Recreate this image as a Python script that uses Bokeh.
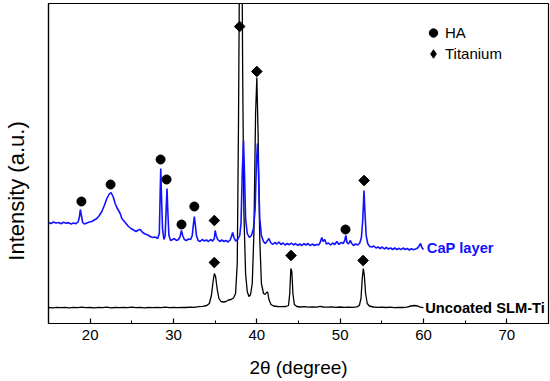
import numpy as np
from bokeh.plotting import figure
from bokeh.models import Range1d, SingleIntervalTicker, FixedTicker, Label, Legend, LegendItem
from bokeh.embed import file_html
from bokeh.resources import INLINE

# ---- data ----
# Uncoated SLM-Ti pattern: 2theta (degree), intensity (a.u., offset baseline)
slm_x = [15.0, 15.5, 16.0, 16.5, 17.0, 17.5, 18.0, 18.5, 19.0, 19.5, 20.0, 20.5, 21.0, 21.5,
         22.0, 22.5, 23.0, 23.5, 24.0, 24.5, 25.0, 25.5, 26.0, 26.5, 27.0, 27.5, 28.0, 28.5,
         29.0, 29.5, 30.0, 30.5, 31.0, 31.5, 32.0, 32.5, 33.0, 33.5, 34.0, 34.3, 34.55, 34.75,
         34.9, 35.05, 35.25, 35.45, 35.7, 36.0, 36.3, 36.6, 36.9, 37.2, 37.45, 37.65, 37.8,
         37.95, 38.2, 38.3, 38.45, 38.65, 38.85, 39.05, 39.25, 39.45, 39.65, 39.85, 40.0,
         40.15, 40.35, 40.55, 40.8, 41.0, 41.15, 41.3, 41.45, 41.7, 42.0, 42.5, 43.0, 43.5,
         43.8, 43.95, 44.08, 44.2, 44.33, 44.5, 44.8, 45.2, 45.7, 46.2, 46.7, 47.2, 47.6,
         48.0, 48.5, 49.0, 49.5, 50.0, 50.5, 51.0, 51.5, 52.0, 52.3, 52.5, 52.65, 52.78,
         52.9, 53.05, 53.25, 53.5, 54.0, 54.5, 55.0, 55.5, 56.0, 56.5, 57.0, 57.5, 58.0,
         58.5, 58.9, 59.3, 59.6, 60.0]
slm_y = [16.0, 15.6, 16.2, 15.8, 16.1, 15.7, 16.2, 15.9, 16.3, 15.8, 16.0, 15.6, 16.1, 15.9,
         16.3, 15.7, 16.0, 15.8, 16.2, 15.9, 16.4, 15.8, 16.1, 15.7, 16.0, 15.9, 16.2, 15.8,
         16.3, 15.9, 16.1, 15.8, 16.2, 16.0, 16.4, 16.2, 16.8, 17.2, 18.0, 20.0, 28.0, 42.0,
         50.0, 47.0, 34.0, 25.0, 22.0, 21.5, 22.0, 23.5, 24.0, 25.5, 30.0, 60.0, 200.0,
         400.0, 400.0, 250.0, 110.0, 50.0, 32.0, 27.0, 29.0, 40.0, 90.0, 210.0, 246.0,
         190.0, 85.0, 40.0, 30.0, 29.0, 31.0, 31.5, 24.0, 19.0, 17.5, 17.0, 16.8, 17.0,
         18.0, 30.0, 55.0, 52.0, 30.0, 19.0, 17.0, 16.5, 16.8, 16.4, 16.6, 16.3, 17.2,
         16.5, 16.3, 16.6, 16.2, 16.5, 16.2, 16.4, 16.1, 16.6, 18.0, 25.0, 45.0, 55.0,
         48.0, 30.0, 20.0, 17.5, 16.5, 16.2, 16.4, 16.0, 16.3, 15.9, 16.2, 16.0, 16.4,
         17.5, 18.0, 17.5, 16.3, 15.8]

# CaP layer pattern
cap_x = [15.0, 15.3, 15.6, 15.9, 16.2, 16.5, 16.8, 17.1, 17.4, 17.7, 18.0, 18.3, 18.55, 18.7,
         18.82, 18.95, 19.1, 19.3, 19.6, 19.9, 20.2, 20.5, 20.8, 21.1, 21.4, 21.7, 22.0,
         22.25, 22.5, 22.75, 23.0, 23.2, 23.4, 23.6, 23.8, 24.0, 24.3, 24.6, 24.9, 25.2,
         25.5, 25.8, 26.0, 26.3, 26.6, 26.9, 27.2, 27.5, 27.8, 28.1, 28.3, 28.4, 28.47,
         28.55, 28.68, 28.85, 29.0, 29.12, 29.22, 29.32, 29.45, 29.65, 29.9, 30.1, 30.35,
         30.6, 30.8, 30.95, 31.1, 31.3, 31.55, 31.8, 32.05, 32.25, 32.4, 32.5, 32.6, 32.75,
         32.95, 33.2, 33.45, 33.7, 33.95, 34.2, 34.45, 34.7, 34.9, 35.0, 35.12, 35.3, 35.55,
         35.8, 36.05, 36.3, 36.55, 36.8, 36.95, 37.1, 37.25, 37.45, 37.7, 37.95, 38.1,
         38.25, 38.4, 38.52, 38.65, 38.85, 39.1, 39.35, 39.6, 39.8, 39.95, 40.08, 40.2,
         40.35, 40.55, 40.8, 41.0, 41.2, 41.45, 41.65, 41.9, 42.15, 42.4, 42.65, 42.9,
         43.15, 43.4, 43.65, 43.9, 44.15, 44.4, 44.65, 44.9, 45.15, 45.4, 45.65, 45.9,
         46.15, 46.4, 46.65, 46.9, 47.15, 47.4, 47.6, 47.8, 47.95, 48.15, 48.35, 48.6,
         48.85, 49.1, 49.35, 49.6, 49.85, 50.1, 50.35, 50.55, 50.68, 50.82, 51.0, 51.2,
         51.4, 51.6, 51.85, 52.1, 52.35, 52.55, 52.72, 52.86, 52.98, 53.12, 53.3, 53.55,
         53.8, 54.05, 54.3, 54.55, 54.8, 55.05, 55.3, 55.55, 55.8, 56.05, 56.3, 56.55,
         56.8, 57.05, 57.3, 57.55, 57.8, 58.05, 58.3, 58.55, 58.8, 59.05, 59.3, 59.5,
         59.65, 59.8, 60.0]
cap_y = [101.0, 100.0, 101.5, 100.5, 101.0, 99.8, 101.2, 100.3, 100.9, 99.5, 100.6, 99.8,
         101.5, 106.0, 114.0, 108.0, 101.0, 99.5, 100.5, 101.5, 102.0, 103.5, 105.0, 108.0,
         112.0, 118.0, 125.0, 129.0, 131.0, 127.0, 120.0, 116.0, 113.0, 110.0, 105.0, 103.0,
         100.0, 97.0, 95.0, 93.5, 92.0, 93.5, 94.0, 91.0, 89.5, 88.5, 87.0, 86.0, 86.5,
         85.0, 90.0, 130.0, 155.0, 130.0, 95.0, 84.0, 88.0, 115.0, 135.0, 112.0, 88.0, 83.0,
         84.0, 85.0, 83.0, 84.0, 87.0, 93.0, 88.0, 84.0, 83.0, 84.5, 84.0, 88.0, 100.0,
         107.0, 100.0, 88.0, 83.0, 82.0, 84.0, 82.5, 83.5, 82.0, 84.0, 82.5, 85.0, 93.0,
         88.0, 84.0, 82.0, 83.5, 82.0, 83.0, 81.5, 83.5, 87.0, 91.0, 86.0, 82.5, 84.0, 88.0,
         100.0, 150.0, 183.0, 150.0, 105.0, 90.0, 86.0, 88.0, 95.0, 115.0, 160.0, 180.0,
         150.0, 105.0, 88.0, 82.0, 80.0, 82.0, 85.0, 81.0, 79.0, 81.0, 79.5, 81.5, 79.0,
         80.5, 78.5, 80.0, 78.8, 80.5, 78.5, 80.0, 78.0, 79.5, 78.0, 79.8, 78.5, 80.0, 77.8,
         79.5, 78.0, 79.0, 78.5, 81.0, 86.0, 82.0, 84.0, 79.5, 80.5, 78.5, 80.5, 79.0, 82.0,
         79.0, 81.0, 80.0, 83.0, 88.0, 81.0, 79.5, 83.0, 80.0, 78.0, 79.5, 78.5, 80.5, 86.0,
         105.0, 133.0, 110.0, 88.0, 80.0, 77.0, 76.5, 77.5, 75.5, 76.5, 75.0, 76.5, 74.5,
         76.0, 74.5, 75.5, 74.0, 75.5, 74.0, 75.2, 73.8, 75.5, 74.0, 75.0, 73.5, 74.8, 73.8,
         74.5, 75.5, 78.0, 80.0, 76.0, 74.0]

# Peak markers
ha_x = [18.95, 22.45, 28.45, 29.17, 30.96, 32.5, 50.64]
ha_y = [122, 139, 164, 144, 99, 117, 94]
ti_x = [34.9, 34.9, 37.94, 40.0, 44.1, 52.75, 52.87]
ti_y = [103, 61, 297, 252, 68, 63, 143]

# legend labels and series labels
legend_labels = ["HA", "Titanium"]
series_labels = ["CaP layer", "Uncoated SLM-Ti"]
series_label_x = [60.4, 60.2]
series_label_y = [76, 16]
y_title = "Intensity (a.u.)"
x_title = "2θ (degree)"

BLUE = "#1212ff"
FONT = "Liberation Sans"

p = figure(width=550, height=381, output_backend="svg", toolbar_location=None,
           x_range=Range1d(15, 75), y_range=Range1d(0, 320),
           min_border_left=46, min_border_right=2, min_border_top=3, min_border_bottom=58)
p.grid.visible = False
p.outline_line_color = "black"
p.outline_line_width = 1.2
p.background_fill_color = "white"
p.border_fill_color = "white"

p.line(slm_x, slm_y, line_color="black", line_width=1.3)
p.line(cap_x, cap_y, line_color=BLUE, line_width=1.6)

r_ha = p.scatter(ha_x, ha_y, marker="circle", size=9, color="black")
# diamond-shaped legend key, drawn beneath (and hidden by) the rotated squares
r_ti_key = p.scatter(ti_x, ti_y, marker="diamond", size=9, color="black")
r_ti = p.scatter(ti_x, ti_y, marker="square", angle=np.pi / 4, size=7.5, color="black")

legend = Legend(items=[LegendItem(label=legend_labels[0], renderers=[r_ha]),
                       LegendItem(label=legend_labels[1], renderers=[r_ti_key])],
                location=(373, 259), glyph_width=24, glyph_height=21, label_height=20,
                label_standoff=0, spacing=0, padding=0, margin=0,
                border_line_color=None, background_fill_alpha=0,
                label_text_font=FONT, label_text_font_size="15px", label_text_color="black")
p.add_layout(legend)

for txt, lx, ly, col in zip(series_labels, series_label_x, series_label_y, [BLUE, "black"]):
    p.add_layout(Label(x=lx, y=ly, text=txt, text_font=FONT, text_font_style="bold",
                       text_font_size="14.7px", text_color=col, text_baseline="middle"))

xa = p.xaxis[0]
xa.ticker = SingleIntervalTicker(interval=10, num_minor_ticks=2)
xa.major_tick_in = 5
xa.major_tick_out = 0
xa.minor_tick_in = 3
xa.minor_tick_out = 0
xa.axis_line_width = 1.2
xa.major_tick_line_width = 1.2
xa.major_label_text_font = FONT
xa.major_label_text_font_size = "15px"
xa.major_label_text_color = "black"
xa.major_label_standoff = 6
xa.axis_label = x_title
xa.axis_label_text_font = FONT
xa.axis_label_text_font_size = "19px"
xa.axis_label_text_font_style = "normal"
xa.axis_label_text_color = "black"
xa.axis_label_standoff = 14

ya = p.yaxis[0]
ya.ticker = FixedTicker(ticks=[])
ya.axis_line_width = 1.2
# the y title sits below the frame centre in the original: trailing no-break spaces
# shift the visible text down along the axis
ya.axis_label = y_title + "\u00a0" * 9
ya.axis_label_text_font = FONT
ya.axis_label_text_font_size = "22px"
ya.axis_label_text_font_style = "normal"
ya.axis_label_text_color = "black"
ya.axis_label_standoff = 20

open("out.html", "w").write(file_html(p, INLINE))
